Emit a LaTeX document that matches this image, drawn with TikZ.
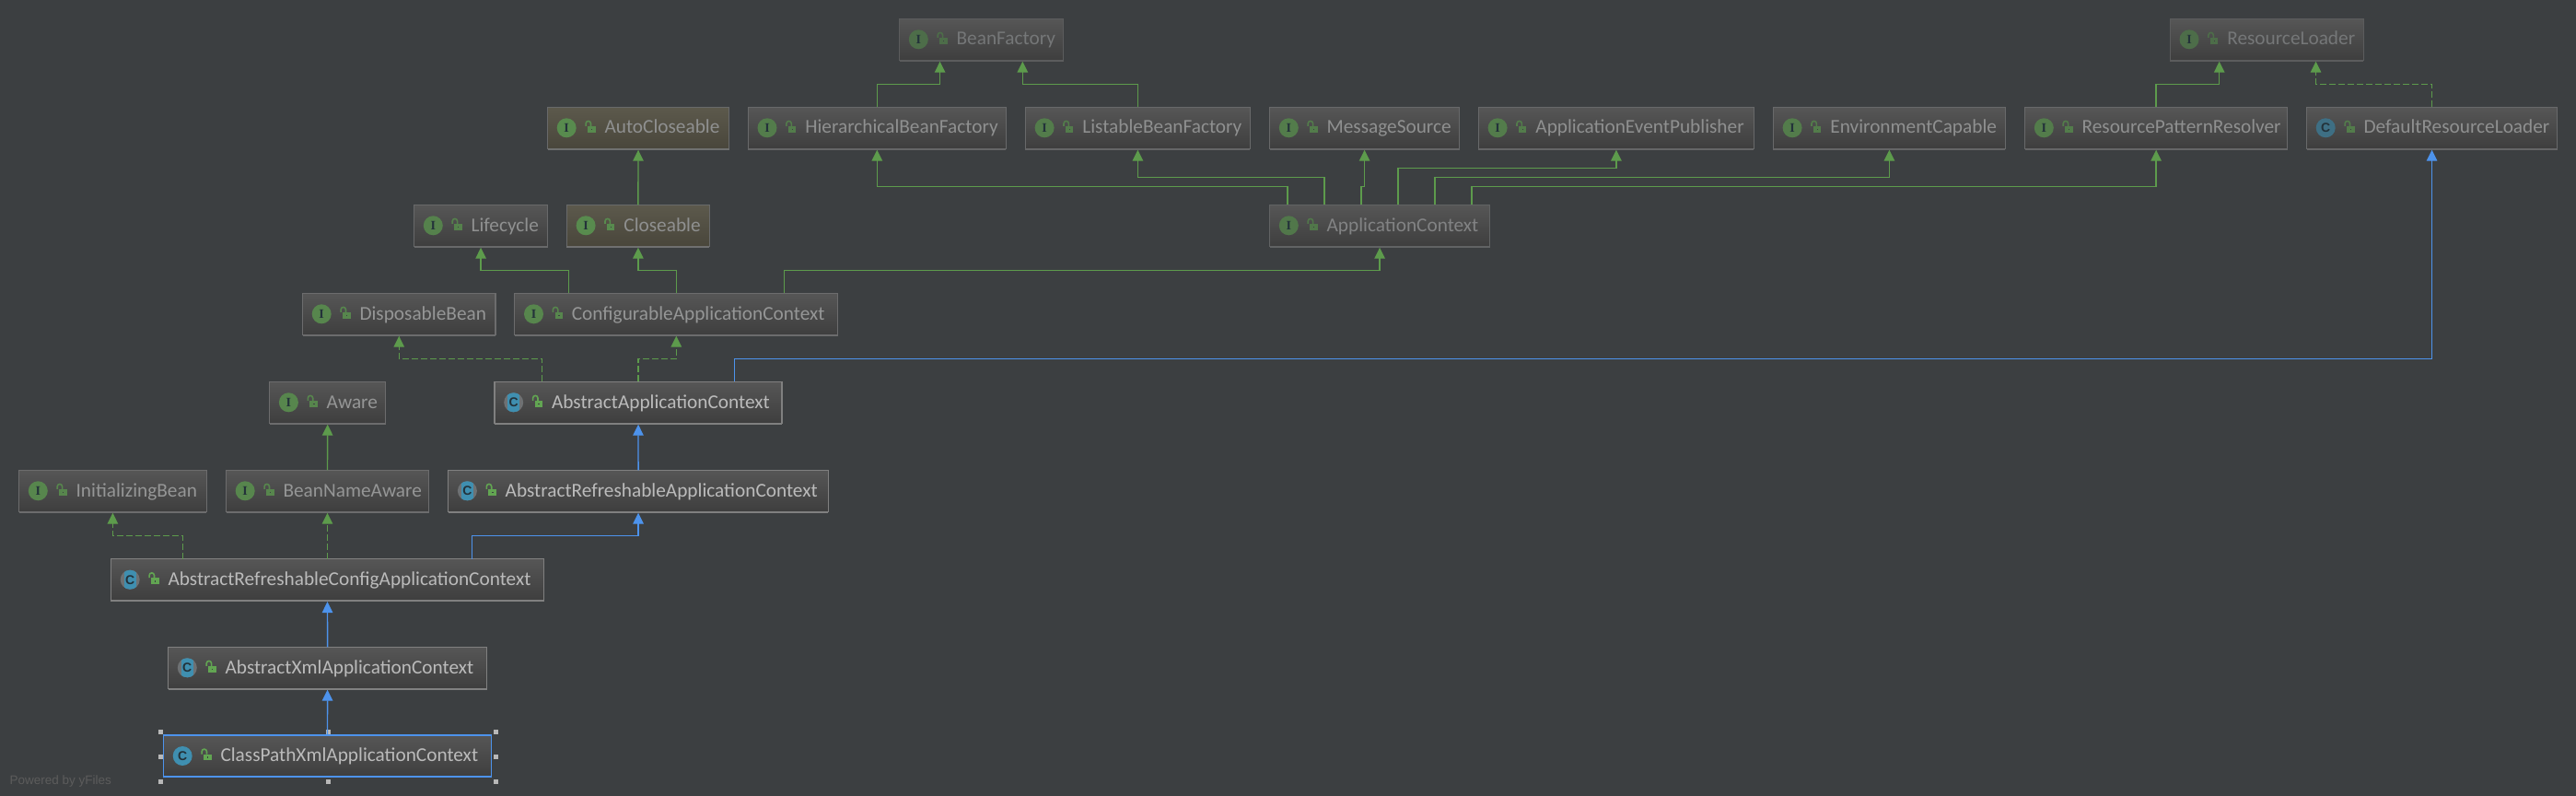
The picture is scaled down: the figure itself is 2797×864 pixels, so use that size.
\documentclass[tikz,border=0pt]{standalone}
\usepackage{fontspec}
\setmainfont{Carlito}
\newfontfamily\iconserif{Liberation Serif}
\newfontfamily\iconsans{Liberation Sans}
\usetikzlibrary{arrows.meta}
\definecolor{bgdark}{HTML}{3C3F41}
\definecolor{boxfg}{HTML}{BBBBBB}
\definecolor{boxedge}{HTML}{808080}
\definecolor{boxtop}{HTML}{565656}
\definecolor{boxbot}{HTML}{3E3E3E}
\definecolor{beigetop}{HTML}{5C594C}
\definecolor{beigebot}{HTML}{49463B}
\definecolor{icongreen}{HTML}{62A552}
\definecolor{iconblue}{HTML}{3F8FB0}
\definecolor{icongrey}{HTML}{6E7173}
\definecolor{icondark}{HTML}{23323A}
\definecolor{linegreen}{HTML}{5D9B4C}
\definecolor{lineblue}{HTML}{4D93EC}
\newcommand{\lockicon}[1]{%
  \draw[icongreen!#1!bgdark,line width=1.6pt] (41.6,20.5) -- (41.6,17.8) arc (180:360:2.7) -- (47,20.5);
  \fill[icongreen!#1!bgdark] (43.7,20.7) rectangle (52,27.4);
  \fill[bgdark] (47.2,23.4) rectangle (48.8,25);
}
\newcommand{\ifcicon}[2]{%
  \draw[boxedge!#2!bgdark,line width=2pt] (#1.south west) -- (#1.south east);
  \begin{scope}[shift={(#1.north west)}]
    \fill[icongreen!#2!bgdark] (20.7,22.5) circle (10.5);
    \lockicon{#2}
    \node[glyph,font=\iconserif\bfseries\fontsize{14pt}{14pt}\selectfont] (#1i) at (20.7,22.5) {I};
  \end{scope}
}
\newcommand{\clsicon}[2]{%
  \draw[boxedge!#2!bgdark,line width=2pt] (#1.south west) -- (#1.south east);
  \begin{scope}[shift={(#1.north west)}]
    \fill[iconblue!#2!bgdark] (20.7,22.5) circle (10.5);
    \lockicon{#2}
    \node[glyph,font=\iconsans\bfseries\fontsize{14pt}{14pt}\selectfont] (#1i) at (20.7,22.5) {C};
  \end{scope}
}
\newcommand{\absicon}[2]{%
  \draw[boxedge!#2!bgdark,line width=2pt] (#1.south west) -- (#1.south east);
  \begin{scope}[shift={(#1.north west)}]
    \fill[icongrey] (20.7,22.5) circle (10.5);
    \begin{scope}
      \clip (20.7,22.5) circle (10.5);
      \fill[iconblue] (14,10) rectangle (27.4,35);
    \end{scope}
    \lockicon{#2}
    \node[glyph,font=\iconsans\bfseries\fontsize{14pt}{14pt}\selectfont] (#1i) at (20.7,22.5) {C};
  \end{scope}
}
\tikzset{
  tint/.code={\def\boxtint{#1}},
  umlbox/.style n args={2}{tint=#2, anchor=north west, outer sep=0pt, inner xsep=0pt, inner ysep=0pt,
    line width=1.3pt, draw=boxedge!\boxtint!bgdark, top color=boxtop, bottom color=boxbot,
    text width=#1pt, text height=28.7pt, text depth=16.7pt, align=left,
    text=boxfg!\boxtint!bgdark, font=\fontsize{21.3pt}{24pt}\selectfont,
    execute at begin node={\hyphenpenalty=10000\exhyphenpenalty=10000\hspace*{62pt}}},
  glyph/.style={text=icondark, inner sep=0pt, outer sep=0pt},
  beige/.style={top color=beigetop, bottom color=beigebot},
  grab/.style={draw=none, fill=white!72!black, minimum size=5pt, inner sep=0pt, outer sep=0pt},
  extline/.style={draw=linegreen, line width=1.4pt, -{Triangle[length=12pt,width=11.5pt]}, shorten >=1pt},
  implline/.style={extline, dash pattern=on 7pt off 3pt},
  clsline/.style={draw=lineblue, line width=1.4pt, -{Triangle[length=12pt,width=11.5pt]}, shorten >=1pt}
}
\begin{document}
\begin{tikzpicture}[x=1pt,y=-1pt]
\fill[bgdark,use as bounding box] (0,0) rectangle (2797,864);
\node[umlbox={178}{45}] (beanfac) at (976.6,20.3) {BeanFactory};
\ifcicon{beanfac}{45}
\node[umlbox={210}{45}] (resload) at (2356.3,20.3) {ResourceLoader};
\ifcicon{resload}{45}
\node[umlbox={197}{65},beige] (autoclose) at (594.5,116.3) {AutoCloseable};
\ifcicon{autoclose}{75}
\node[umlbox={280}{65}] (hierfac) at (812.3,116.3) {HierarchicalBeanFactory};
\ifcicon{hierfac}{60}
\node[umlbox={244}{65}] (listfac) at (1113.4,116.3) {ListableBeanFactory};
\ifcicon{listfac}{60}
\node[umlbox={206}{65}] (msgsrc) at (1378.6,116.3) {MessageSource};
\ifcicon{msgsrc}{60}
\node[umlbox={299}{65}] (eventpub) at (1605.4,116.3) {ApplicationEventPublisher};
\ifcicon{eventpub}{60}
\node[umlbox={252}{65}] (envcap) at (1925.4,116.3) {EnvironmentCapable};
\ifcicon{envcap}{60}
\node[umlbox={285}{65}] (respat) at (2198.6,116.3) {ResourcePatternResolver};
\ifcicon{respat}{60}
\node[umlbox={272}{65}] (defload) at (2504.5,116.3) {DefaultResourceLoader};
\clsicon{defload}{60}
\node[umlbox={145}{65}] (lifecycle) at (449.6,222.3) {Lifecycle};
\ifcicon{lifecycle}{65}
\node[umlbox={155}{65},beige] (closeable) at (615.4,222.3) {Closeable};
\ifcicon{closeable}{75}
\node[umlbox={239}{55}] (appctx) at (1378.6,222.3) {ApplicationContext};
\ifcicon{appctx}{55}
\node[umlbox={209.5}{70}] (disposable) at (328.5,318.3) {DisposableBean};
\ifcicon{disposable}{70}
\node[umlbox={351}{70}] (confctx) at (558.8,318.3) {ConfigurableApplicationContext};
\ifcicon{confctx}{70}
\node[umlbox={126}{70}] (aware) at (292.7,414.3) {Aware};
\ifcicon{aware}{70}
\node[umlbox={312}{100}] (absctx) at (537,414.3) {AbstractApplicationContext};
\absicon{absctx}{100}
\node[umlbox={203.6}{70}] (initbean) at (20.6,510.3) {InitializingBean};
\ifcicon{initbean}{70}
\node[umlbox={220}{70}] (namebean) at (245.5,510.3) {BeanNameAware};
\ifcicon{namebean}{70}
\node[umlbox={412.7}{100}] (absrefctx) at (486.7,510.3) {AbstractRefreshableApplicationContext};
\absicon{absrefctx}{100}
\node[umlbox={470}{100}] (absconf) at (120.5,606.7) {AbstractRefreshableConfigApplicationContext};
\absicon{absconf}{100}
\node[umlbox={346}{100}] (absxml) at (182.6,702.3) {AbstractXmlApplicationContext};
\absicon{absxml}{100}
\node[umlbox={356}{100},draw=lineblue] (cpx) at (177.5,798) {ClassPathXmlApplicationContext};
\clsicon{cpx}{100}
\draw[lineblue,line width=2pt] (cpx.south west) -- (cpx.south east);
\node[grab] (g1) at (174,794) {};
\node[grab] (g2) at (356,794) {};
\node[grab] (g3) at (538,794) {};
\node[grab] (g4) at (174,821) {};
\node[grab] (g5) at (538,821) {};
\node[grab] (g6) at (174,848) {};
\node[grab] (g7) at (356,848) {};
\node[grab] (g8) at (538,848) {};
\node[anchor=base west,inner sep=0pt,text=white!36!black,font=\iconsans\fontsize{13.5pt}{14pt}\selectfont] (powered) at (10.5,851.5) {Powered by yFiles};
\draw[extline] (hierfac.north) -- ++(0,-25) -| ([xshift=-45pt]beanfac.south);
\draw[extline] (listfac.north) -- ++(0,-25) -| ([xshift=44.7pt]beanfac.south);
\draw[extline] (respat.north) -- ++(0,-25) -| ([xshift=-51.6pt]resload.south);
\draw[implline] (defload.north) -- ++(0,-25) -| ([xshift=53.2pt]resload.south);
\draw[extline] (closeable.north) -- (autoclose.south);
\draw[extline] ([xshift=-100pt]appctx.north) -- ++(0,-20) -| (hierfac.south);
\draw[extline] ([xshift=-60pt]appctx.north) -- ++(0,-30) -| (listfac.south);
\draw[extline] ([xshift=-20pt]appctx.north) -- ++(0,-20) -| (msgsrc.south);
\draw[extline] ([xshift=20pt]appctx.north) -- ++(0,-40) -| (eventpub.south);
\draw[extline] ([xshift=60pt]appctx.north) -- ++(0,-30) -| (envcap.south);
\draw[extline] ([xshift=100pt]appctx.north) -- ++(0,-20) -| (respat.south);
\draw[extline] ([xshift=-117pt]confctx.north) -- ++(0,-25) -| (lifecycle.south);
\draw[extline] (confctx.north) -- ++(0,-25) -| (closeable.south);
\draw[extline] ([xshift=117pt]confctx.north) -- ++(0,-25) -| (appctx.south);
\draw[implline] ([xshift=-104.5pt]absctx.north) -- ++(0,-25) -| (disposable.south);
\draw[implline] (absctx.north) -- ++(0,-25) -| (confctx.south);
\draw[clsline] ([xshift=104.6pt]absctx.north) -- ++(0,-25) -| (defload.south);
\draw[extline] (namebean.north) -- (aware.south);
\draw[clsline] (absrefctx.north) -- (absctx.south);
\draw[implline] ([xshift=-156.8pt]absconf.north) -- ++(0,-25) -| (initbean.south);
\draw[implline] (absconf.north) -- (namebean.south);
\draw[clsline] ([xshift=157pt]absconf.north) -- ++(0,-25) -| (absrefctx.south);
\draw[clsline] (absxml.north) -- (absconf.south);
\draw[clsline] (cpx.north) -- (absxml.south);
\end{tikzpicture}
\end{document}
